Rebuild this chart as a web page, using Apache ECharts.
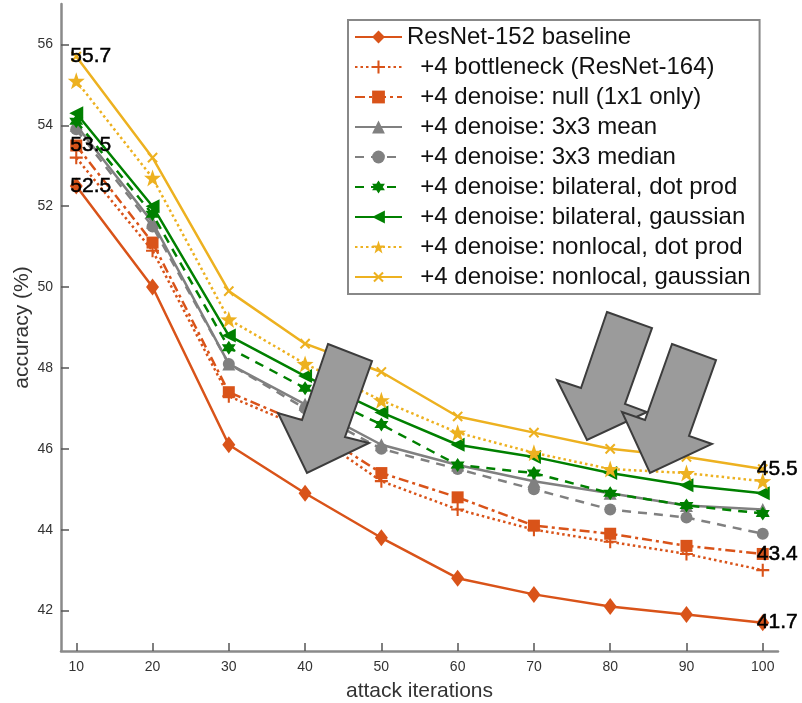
<!DOCTYPE html>
<html><head><meta charset="utf-8">
<script src="https://cdn.jsdelivr.net/npm/echarts@6/dist/echarts.min.js"></script>
<style>html,body{margin:0;padding:0;background:#fff}#c{width:802px;height:703px}</style>
</head><body><div id="c"></div>
<script>
// ---- data ----
const iterations = [10, 20, 30, 40, 50, 60, 70, 80, 90, 100];
const baseline      = [52.5, 50.0, 46.1, 44.9, 43.8, 42.8, 42.4, 42.1, 41.9, 41.7];
const bottleneck    = [53.2, 50.9, 47.3, 46.5, 45.2, 44.5, 44.0, 43.7, 43.4, 43.0];
const denoiseNull   = [53.5, 51.1, 47.4, 46.6, 45.4, 44.8, 44.1, 43.9, 43.6, 43.4];
const mean3x3       = [54.0, 51.6, 48.1, 47.1, 46.1, 45.6, 45.2, 44.9, 44.6, 44.5];
const median3x3     = [53.9, 51.5, 48.1, 47.0, 46.0, 45.5, 45.0, 44.5, 44.3, 43.9];
const bilateralDot  = [54.1, 51.8, 48.5, 47.5, 46.6, 45.6, 45.4, 44.9, 44.6, 44.4];
const bilateralGau  = [54.3, 52.0, 48.8, 47.8, 46.9, 46.1, 45.8, 45.4, 45.1, 44.9];
const nonlocalDot   = [55.1, 52.7, 49.2, 48.1, 47.2, 46.4, 45.9, 45.5, 45.4, 45.2];
const nonlocalGau   = [55.7, 53.2, 49.9, 48.6, 47.9, 46.8, 46.4, 46.0, 45.8, 45.5];
const seriesNames = [
  'ResNet-152 baseline',
  '+4 bottleneck (ResNet-164)',
  '+4 denoise: null (1x1 only)',
  '+4 denoise: 3x3 mean',
  '+4 denoise: 3x3 median',
  '+4 denoise: bilateral, dot prod',
  '+4 denoise: bilateral, gaussian',
  '+4 denoise: nonlocal, dot prod',
  '+4 denoise: nonlocal, gaussian'
];
const annotX = [10, 10, 10, 100, 100, 100];
const annotY = [55.7, 53.5, 52.5, 45.5, 43.4, 41.7];
const xTicks = [10, 20, 30, 40, 50, 60, 70, 80, 90, 100];
const yTicks = [42, 44, 46, 48, 50, 52, 54, 56];
const xAxisTitle = 'attack iterations';
const yAxisTitle = 'accuracy (%)';

// ---- styles ----
const ORANGE = '#D95319', GRAY = '#808080', GREEN = '#008000', YELLOW = '#EDB120';
const PLUS = 'path://M-1.6,-10 L1.6,-10 L1.6,-1.6 L10,-1.6 L10,1.6 L1.6,1.6 L1.6,10 L-1.6,10 L-1.6,1.6 L-10,1.6 L-10,-1.6 L-1.6,-1.6Z';
const STAR5 = 'path://M0,-10 L2.35,-3.24 L9.51,-3.09 L3.8,1.24 L5.88,8.09 L0,4 L-5.88,8.09 L-3.8,1.24 L-9.51,-3.09 L-2.35,-3.24Z';
const HEX = 'path://M0,-10 L8.66,5 L-8.66,5Z M0,10 L-8.66,-5 L8.66,-5Z';
const styles = [
  {color: ORANGE, type: 'solid', symbol: 'diamond', size: [13, 17], rot: 0},
  {color: ORANGE, type: [2.5, 3], symbol: PLUS, size: 13, rot: 0},
  {color: ORANGE, type: [10, 4, 3, 4], symbol: 'rect', size: 12, rot: 0},
  {color: GRAY, type: 'solid', symbol: 'triangle', size: 13, rot: 0},
  {color: GRAY, type: [9, 7], symbol: 'circle', size: 12, rot: 0},
  {color: GREEN, type: [9, 7], symbol: HEX, size: 14, rot: 0},
  {color: GREEN, type: 'solid', symbol: 'triangle', size: 14, rot: 90},
  {color: YELLOW, type: [2.5, 3], symbol: STAR5, size: 17, rot: 0},
  {color: YELLOW, type: 'solid', symbol: PLUS, size: 13, rot: 45}
];
const allData = [baseline, bottleneck, denoiseNull, mean3x3, median3x3, bilateralDot, bilateralGau, nonlocalDot, nonlocalGau];

const FONT = 'Liberation Sans, Arial, sans-serif';
const series = allData.map((vals, i) => ({
  name: seriesNames[i],
  type: 'line',
  data: iterations.map((x, j) => [x, vals[j]]),
  symbol: styles[i].symbol,
  symbolSize: styles[i].size,
  symbolRotate: styles[i].rot,
  showAllSymbol: true,
  lineStyle: {color: styles[i].color, width: 2.5, type: styles[i].type},
  itemStyle: {color: styles[i].color, borderWidth: 0},
  emphasis: {disabled: true},
  z: 2 + i
}));
series.push({
  name: 'annotations',
  type: 'scatter',
  silent: true,
  symbolSize: 0.1,
  itemStyle: {color: '#000'},
  data: annotX.map((x, i) => [x, annotY[i]]),
  label: {
    show: true, position: 'right', distance: 0, offset: [-6, 0],
    formatter: p => p.value[1].toFixed(1),
    color: '#000', opacity: 1, fontSize: 21, fontFamily: FONT,
    textBorderColor: '#000', textBorderWidth: 0.5
  },
  z: 20
});

function arrow(pts) {
  return {type: 'polygon', z: 100, shape: {points: pts},
    style: {fill: '#9b9b9b', stroke: '#3c3c3c', lineWidth: 2}};
}

const chart = echarts.init(document.getElementById('c'), null, {renderer: 'canvas'});
chart.setOption({
  animation: false,
  backgroundColor: '#fff',
  grid: {left: 61, right: 24, top: 4, bottom: 52, containLabel: false, outerBoundsMode: 'none'},
  xAxis: {
    type: 'value', min: 8, max: 102,
    name: xAxisTitle, nameLocation: 'middle', nameGap: 30, nameMoveOverlap: false,
    nameTextStyle: {fontSize: 21, color: '#333', fontFamily: FONT},
    axisLine: {show: true, onZero: false, lineStyle: {color: '#8a8a8a', width: 2.5}},
    axisTick: {show: true, inside: true, length: 8, customValues: xTicks, lineStyle: {color: '#555', width: 1.5}},
    axisLabel: {customValues: xTicks, fontSize: 14, color: '#333', margin: 9, fontFamily: FONT},
    splitLine: {show: false}
  },
  yAxis: {
    type: 'value', min: 41, max: 57,
    name: yAxisTitle, nameLocation: 'middle', nameGap: 28, nameRotate: 90, nameMoveOverlap: false,
    nameTextStyle: {fontSize: 21, color: '#333', fontFamily: FONT},
    axisLine: {show: true, onZero: false, lineStyle: {color: '#8a8a8a', width: 2.5}},
    axisTick: {show: true, inside: true, length: 8, customValues: yTicks, lineStyle: {color: '#555', width: 1.5}},
    axisLabel: {customValues: yTicks, fontSize: 14, color: '#333', margin: 8, fontFamily: FONT},
    splitLine: {show: false}
  },
  legend: {
    data: seriesNames,
    orient: 'vertical',
    left: 348, top: 20,
    padding: [5, 9, 5, 6],
    itemWidth: 47, itemHeight: 16, itemGap: 6, itemTextGap: 6,
    borderColor: '#888', borderWidth: 2, backgroundColor: '#fff',
    selectedMode: false,
    formatter: n => n === seriesNames[0] ? n : '  ' + n,
    textStyle: {fontSize: 24, lineHeight: 24, color: '#111', fontFamily: FONT}
  },
  series: series,
  graphic: [
    arrow([[328,344],[372,361],[345,437],[369,443],[307,473],[278,413],[302,420]]),
    arrow([[607,312],[652,328],[625,404],[647,412],[587,440],[557,380],[581,388]]),
    arrow([[672,344],[716,360],[689,436],[712,444],[650,473],[622,412],[645,420]])
  ]
});
</script>
</body></html>
